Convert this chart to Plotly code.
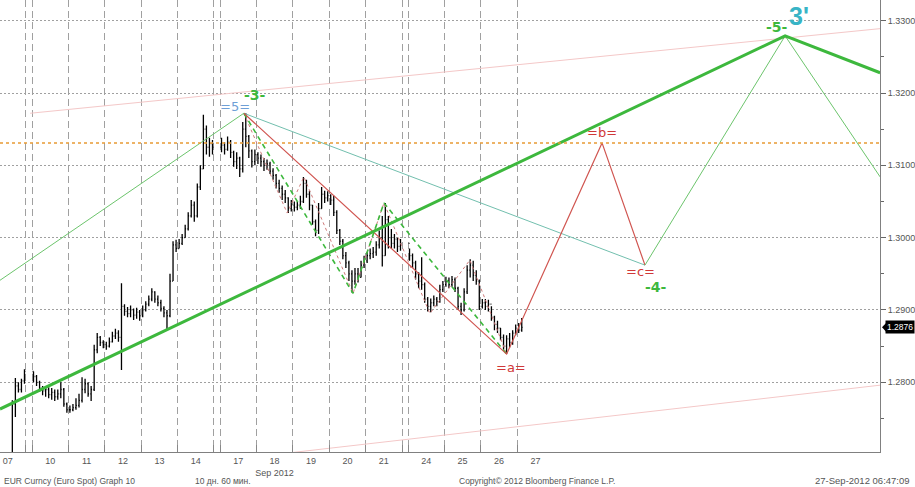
import plotly.graph_objects as go

# ---------------- data ----------------
day_labels = ["07", "10", "11", "12", "13", "14", "17", "18", "19", "20", "21", "24", "25", "26", "27"]
after_weekend = ["10", "17", "24"]
bars_in_day = [5, 12, 12, 12, 12, 12, 12, 12, 12, 12, 12, 12, 12, 12, 2]

first_open = 1.2660
close_vals = [
    1.2770, 1.2795, 1.2790, 1.2802, 1.2815,  # 07
    1.2808, 1.2800, 1.2792, 1.2788, 1.2790, 1.2783, 1.2786, 1.2780, 1.2784, 1.2790, 1.2770, 1.2762,  # 10
    1.2762, 1.2765, 1.2768, 1.2775, 1.2790, 1.2798, 1.2784, 1.2790, 1.2845, 1.2862, 1.2855, 1.2852,  # 11
    1.2850, 1.2856, 1.2864, 1.2868, 1.2862, 1.2905, 1.2898, 1.2895, 1.2900, 1.2893, 1.2897, 1.2892,  # 12
    1.2900, 1.2908, 1.2915, 1.2925, 1.2915, 1.2910, 1.2902, 1.2896, 1.2892, 1.2940, 1.2990, 1.2985,  # 13
    1.2992, 1.3000, 1.3012, 1.3030, 1.3045, 1.3030, 1.3070, 1.3095, 1.3150, 1.3125, 1.3130, 1.3125,  # 14
    1.3128, 1.3122, 1.3132, 1.3118, 1.3105, 1.3110, 1.3095, 1.3150, 1.3140, 1.3120, 1.3105, 1.3115,  # 17
    1.3110, 1.3105, 1.3100, 1.3102, 1.3092, 1.3086, 1.3075, 1.3068, 1.3060, 1.3055, 1.3040, 1.3045,  # 18
    1.3042, 1.3045, 1.3050, 1.3075, 1.3060, 1.3045, 1.3022, 1.3010, 1.3040, 1.3060, 1.3055, 1.3058,  # 19
    1.3052, 1.3035, 1.3010, 1.2995, 1.2975, 1.2965, 1.2950, 1.2940, 1.2950, 1.2945, 1.2962, 1.2968,  # 20
    1.2975, 1.2978, 1.2980, 1.2990, 1.3000, 1.2975, 1.3025, 1.3000, 1.2992, 1.2998, 1.2988, 1.2992,  # 21
    1.2975, 1.2965, 1.2950, 1.2940, 1.2935, 1.2915, 1.2905, 1.2910, 1.2915, 1.2912, 1.2928, 1.2935,  # 24
    1.2940, 1.2935, 1.2942, 1.2930, 1.2905, 1.2900, 1.2925, 1.2955, 1.2962, 1.2948, 1.2940, 1.2905,  # 25
    1.2910, 1.2905, 1.2908, 1.2890, 1.2880, 1.2875, 1.2862, 1.2850, 1.2860, 1.2855, 1.2868, 1.2875,  # 26
    1.2872, 1.2876,  # 27
]
high_vals = [
    1.2775, 1.2806, 1.2800, 1.2805, 1.2818,
    1.2815, 1.2810, 1.2802, 1.2795, 1.2795, 1.2793, 1.2792, 1.2790, 1.2790, 1.2800, 1.2792, 1.2772,
    1.2768, 1.2770, 1.2778, 1.2784, 1.2807, 1.2805, 1.2800, 1.2795, 1.2852, 1.2868, 1.2864, 1.2858,
    1.2856, 1.2862, 1.2870, 1.2874, 1.2872, 1.2937, 1.2908, 1.2904, 1.2906, 1.2902, 1.2903, 1.2900,
    1.2906, 1.2912, 1.2920, 1.2930, 1.2926, 1.2920, 1.2914, 1.2905, 1.2900, 1.2950, 1.2995, 1.2997,
    1.2998, 1.3005, 1.3018, 1.3035, 1.3052, 1.3050, 1.3075, 1.3100, 1.3170, 1.3155, 1.3138, 1.3135,
    1.3138, 1.3132, 1.3140, 1.3135, 1.3120, 1.3118, 1.3112, 1.3160, 1.3172, 1.3142, 1.3122, 1.3122,
    1.3118, 1.3115, 1.3110, 1.3108, 1.3105, 1.3096, 1.3088, 1.3080, 1.3072, 1.3066, 1.3056, 1.3052,
    1.3050, 1.3050, 1.3058, 1.3084, 1.3080, 1.3065, 1.3045, 1.3025, 1.3048, 1.3070, 1.3065, 1.3064,
    1.3060, 1.3058, 1.3038, 1.3012, 1.2998, 1.2980, 1.2968, 1.2955, 1.2958, 1.2958, 1.2968, 1.2975,
    1.2980, 1.2985, 1.2987, 1.2995, 1.3010, 1.3030, 1.3048, 1.3030, 1.3012, 1.3005, 1.3000, 1.2998,
    1.2985, 1.2978, 1.2968, 1.2952, 1.2973, 1.2938, 1.2918, 1.2916, 1.2920, 1.2918, 1.2935, 1.2940,
    1.2946, 1.2945, 1.2947, 1.2945, 1.2932, 1.2910, 1.2930, 1.2962, 1.2970, 1.2968, 1.2955, 1.2942,
    1.2915, 1.2915, 1.2914, 1.2905, 1.2892, 1.2885, 1.2875, 1.2866, 1.2865, 1.2868, 1.2872, 1.2880,
    1.2882, 1.2889,
]
low_vals = [
    1.2640, 1.2752, 1.2786, 1.2786, 1.2798,
    1.2800, 1.2795, 1.2787, 1.2782, 1.2780, 1.2778, 1.2776, 1.2774, 1.2776, 1.2778, 1.2766, 1.2758,
    1.2758, 1.2760, 1.2762, 1.2765, 1.2772, 1.2785, 1.2780, 1.2774, 1.2788, 1.2840, 1.2850, 1.2847,
    1.2845, 1.2848, 1.2855, 1.2860, 1.2856, 1.2817, 1.2892, 1.2890, 1.2890, 1.2886, 1.2888, 1.2885,
    1.2890, 1.2898, 1.2905, 1.2912, 1.2910, 1.2905, 1.2898, 1.2890, 1.2872, 1.2890, 1.2940, 1.2980,
    1.2985, 1.2990, 1.3000, 1.3010, 1.3028, 1.3022, 1.3028, 1.3066, 1.3095, 1.3115, 1.3112, 1.3115,
    1.3118, 1.3115, 1.3120, 1.3110, 1.3098, 1.3095, 1.3084, 1.3090, 1.3125, 1.3110, 1.3097, 1.3100,
    1.3102, 1.3098, 1.3092, 1.3094, 1.3088, 1.3080, 1.3068, 1.3062, 1.3052, 1.3048, 1.3034, 1.3036,
    1.3036, 1.3038, 1.3040, 1.3048, 1.3055, 1.3038, 1.3018, 1.3002, 1.3005, 1.3040, 1.3048, 1.3050,
    1.3045, 1.3030, 1.3005, 1.2990, 1.2970, 1.2958, 1.2940, 1.2924, 1.2935, 1.2938, 1.2945, 1.2958,
    1.2965, 1.2970, 1.2972, 1.2975, 1.2985, 1.2960, 1.2975, 1.2985, 1.2985, 1.2985, 1.2980, 1.2982,
    1.2968, 1.2958, 1.2942, 1.2930, 1.2928, 1.2910, 1.2898, 1.2897, 1.2905, 1.2905, 1.2910, 1.2925,
    1.2932, 1.2930, 1.2932, 1.2925, 1.2900, 1.2893, 1.2898, 1.2922, 1.2945, 1.2940, 1.2935, 1.2900,
    1.2902, 1.2900, 1.2898, 1.2885, 1.2872, 1.2868, 1.2858, 1.2845, 1.2839, 1.2848, 1.2852, 1.2865,
    1.2868, 1.2870,
]
last_price = 1.2876

# wave points: (trading-day position, price); day 0 = start of Sep 10
pt5 = (5.82, 1.3172)
pt_low20 = (8.82, 1.2923)
pt_high21 = (9.67, 1.3048)
pt_a = (13.04, 1.2839)
pt_b = (15.66, 1.3131)
pt_c = (16.84, 1.2962)
pt_5p = (20.69, 1.3279)
minor_wave_x = [5.82, 7.01, 7.47, 8.82, 9.67, 10.93, 12.03, 13.04]
minor_wave_y = [1.3172, 1.3034, 1.3084, 1.2923, 1.3048, 1.2895, 1.2969, 1.2839]
thick_trend_x = [-0.88, 20.69, 23.30]
thick_trend_y = [1.2763, 1.3279, 1.3228]
thin_left_x = [-0.88, 5.82]
thin_left_y = [1.2941, 1.3172]
thin_right_x = [16.84, 20.69, 23.30]
thin_right_y = [1.2962, 1.3279, 1.3084]
chan_up_x = [-0.05, 23.30]
chan_up_y = [1.3172, 1.3289]
chan_lo_x = [7.17, 23.30]
chan_lo_y = [1.2703, 1.2796]
resistance = 1.3131

# ---------------- layout helpers ----------------
SLOTS = 12
GAP = 0.165
X_MIN, X_MAX = -0.879, 23.297
Y_MIN, Y_MAX = 1.27036, 1.33286

starts = []
pos = -1 - GAP
for d in day_labels:
    if d in after_weekend:
        pos += GAP
    starts.append(pos)
    pos += 1

xs = []
for i, (s, n) in enumerate(zip(starts, bars_in_day)):
    first = SLOTS - n if i == 0 else 0
    for k in range(n):
        xs.append(s + (first + k + 0.5) / SLOTS)

opens = [first_open] + close_vals[:-1]

centers = [s + 0.5 for s in starts]
ticktext = [d if d != "18" else "18<br>Sep 2012" for d in day_labels]
bounds = []
for i, s in enumerate(starts):
    bounds.append(s)
    if i < len(starts) - 1:
        bounds.append(s + 1)
bounds = sorted(set(round(b, 4) for b in bounds))

GREEN = "#3db83d"
RED = "#d05550"
FONT = "Liberation Sans"
LFONT = "DejaVu Sans"

fig = go.Figure()

def line(x, y, color, width, dash="solid"):
    fig.add_trace(go.Scatter(x=x, y=y, mode="lines", hoverinfo="skip",
                             line=dict(color=color, width=width, dash=dash)))

line(chan_up_x, chan_up_y, "#f4c8c8", 1)
line(chan_lo_x, chan_lo_y, "#f4c8c8", 1)

fig.add_trace(go.Ohlc(x=xs, open=opens, high=high_vals, low=low_vals, close=close_vals,
                      increasing=dict(line=dict(color="black", width=1.3)),
                      decreasing=dict(line=dict(color="black", width=1.3)),
                      tickwidth=0.3, hoverinfo="skip"))

line(minor_wave_x, minor_wave_y, "#cf7a7a", 1, "dot")
line([pt5[0], pt_low20[0], pt_high21[0], pt_a[0]], [pt5[1], pt_low20[1], pt_high21[1], pt_a[1]],
     GREEN, 1.6, "5px,4px")
line([pt5[0], pt_c[0]], [pt5[1], pt_c[1]], "#72bfae", 1)
line([pt5[0], pt_a[0], pt_b[0], pt_c[0]], [pt5[1], pt_a[1], pt_b[1], pt_c[1]], RED, 1.2)
line(thin_left_x, thin_left_y, "#6cc46c", 1)
line(thin_right_x, thin_right_y, "#6cc46c", 1)
line(thick_trend_x, thick_trend_y, GREEN, 3)

fig.add_shape(type="line", xref="paper", x0=0, x1=1, yref="y", y0=resistance, y1=resistance,
              line=dict(color="#e89a35", width=1.5, dash="dot"))

def label(x, y, text, color, size, bold=False, family=LFONT):
    fig.add_annotation(x=x, y=y, xref="x", yref="y", text=f"<b>{text}</b>" if bold else text,
                       showarrow=False, font=dict(color=color, size=size, family=family))

label(5.58, 1.3182, "=5=", "#6f9fd6", 13)
label(6.12, 1.3197, "-3-", GREEN, 14, True)
label(15.66, 1.3145, "=b=", "#d03838", 13)
label(16.72, 1.2953, "=c=", "#d03838", 13)
label(17.14, 1.2932, "-4-", GREEN, 14, True)
label(13.15, 1.2820, "=a=", "#d03838", 13)
label(20.47, 1.3291, "-5-", GREEN, 14, True)
label(21.06, 1.3307, "3'", "#38b4c6", 25, True, FONT)

# current price tag
py = (last_price - Y_MIN) / (Y_MAX - Y_MIN)
fig.add_shape(type="path", xref="paper", yref="paper",
              path=f"M 1.0023 {py} L 1.0085 {py + 0.013} L 1.0085 {py - 0.013} Z",
              fillcolor="black", line=dict(width=0))
fig.add_annotation(xref="paper", yref="paper", x=1.0398, y=py, xanchor="right", yanchor="middle",
                   text=f"{last_price:.4f}", showarrow=False, bgcolor="black", borderpad=1,
                   font=dict(color="white", size=8.5, family=FONT))

# footer
def foot(x, text, anchor="left", size=8.5):
    fig.add_annotation(xref="paper", yref="paper", x=x, y=-0.064, xanchor=anchor, yanchor="middle",
                       text=text, showarrow=False, font=dict(color="#555", size=size, family=FONT))

foot(0.0023, "EUR Curncy (Euro Spot) Graph 10")
foot(0.219, "10 дн. 60 мин.")
foot(0.519, "Copyright© 2012 Bloomberg Finance L.P.")
foot(1.0364, "27-Sep-2012 06:47:09", "right", 9.5)

fig.update_layout(
    width=915, height=487, margin=dict(l=0, r=35, t=0, b=35),
    paper_bgcolor="white", plot_bgcolor="white", showlegend=False,
    font=dict(family=FONT, size=9, color="#555"),
    xaxis=dict(range=[X_MIN, X_MAX], tickmode="array", tickvals=centers, ticktext=ticktext,
               ticks="", showgrid=False, showline=True, linecolor="#808080", linewidth=1,
               zeroline=False, rangeslider=dict(visible=False), fixedrange=True,
               tickfont=dict(size=9, color="#555"),
               minor=dict(tickmode="array", tickvals=bounds, ticks="inside", ticklen=7,
                          tickcolor="#888", showgrid=True, gridcolor="#a0a0a0",
                          griddash="7px,4px", gridwidth=1)),
    yaxis=dict(range=[Y_MIN, Y_MAX], side="right", tickmode="array",
               tickvals=[1.28, 1.29, 1.30, 1.31, 1.32, 1.33], tickformat=".4f",
               ticks="outside", ticklen=5, tickcolor="#666", showline=True, linecolor="#808080",
               linewidth=1, showgrid=True, gridcolor="#a0a0a0", griddash="2px,2px",
               zeroline=False, fixedrange=True, tickfont=dict(size=9, color="#555"),
               minor=dict(tickmode="array", tickvals=[1.275, 1.285, 1.295, 1.305, 1.315, 1.325],
                          ticks="outside", ticklen=3, tickcolor="#666", showgrid=False)),
)

fig.write_html("out.html", config={"displayModeBar": False, "staticPlot": True},
               post_script="document.body.style.margin='0';")
